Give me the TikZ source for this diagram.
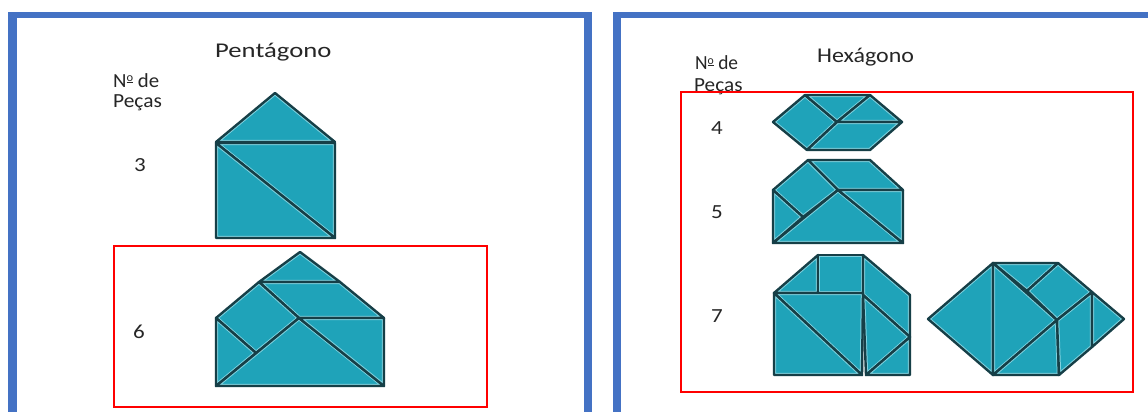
\documentclass[tikz,border=0pt]{standalone}
\usepackage{fontspec}
\setmainfont{Carlito}
\definecolor{framblue}{HTML}{4472C4}
\definecolor{boxred}{HTML}{FF0000}
\definecolor{tanfill}{HTML}{1FA3B9}
\definecolor{tanedge}{HTML}{163F47}
\definecolor{tanlight}{HTML}{7FD2DF}
\definecolor{txt}{HTML}{262626}
\tikzset{
  redbox/.style={draw=boxred, line width=2pt},
  lbl/.style={anchor=base west, inner sep=0pt, text=txt, font=\fontsize{20}{24}\selectfont},
  ttl/.style={anchor=base west, inner sep=0pt, text=txt, font=\fontsize{21}{25}\selectfont},
}
% one tangram piece: teal fill, light inner rim, dark outline
\newcommand{\tanpiece}[1]{%
  \begin{scope}
    \clip #1 -- cycle;
    \fill[tanfill] #1 -- cycle;
    \draw[tanlight, line width=4.4pt, line join=round] #1 -- cycle;
  \end{scope}
  \draw[tanedge, line width=2.4pt, line join=round] #1 -- cycle;
}
\newcommand{\sx}[2]{\scalebox{#1}[1]{#2}}
\newcommand{\nro}{N\raisebox{0.62ex}{\fontsize{12}{12}\selectfont\underline{o}}}
\begin{document}
\begin{tikzpicture}[x=1pt,y=-1pt]
\useasboundingbox (0,0) rectangle (1148,412);
\fill[white] (0,0) rectangle (1148,412);

% panel frames
\fill[framblue] (8,12) rectangle (592,18);
\fill[framblue] (8,12) rectangle (17,412);
\fill[framblue] (584,12) rectangle (592,412);
\fill[framblue] (613,12) rectangle (1148,18);
\fill[framblue] (613,12) rectangle (621,412);

% left panel: pentagon
\node[ttl] (ptitle) at (215,57) {\sx{1.27}{Pentágono}};
\node[lbl] (pn1) at (113,87) {\sx{1.04}{\nro{} de}};
\node[lbl] (pn2) at (113,107) {\sx{1.07}{Peças}};
\node[lbl] (p3) at (134,171) {\sx{1.15}{3}};
\node[lbl] (p6) at (133,338) {\sx{1.15}{6}};

% three pieces
\tanpiece{(216,142) -- (275,93) -- (335,142)}
\tanpiece{(216,143) -- (335,143) -- (335,238)}
\tanpiece{(216,143) -- (335,238) -- (216,238)}

\draw[redbox] (114,246) rectangle (487,407);

% six pieces
\tanpiece{(300,252) -- (340,282) -- (259,282)}
\tanpiece{(259,282) -- (340,282) -- (384,318) -- (299,318)}
\tanpiece{(259,282) -- (299,318) -- (256,353) -- (216,318)}
\tanpiece{(216,318) -- (256,353) -- (216,386)}
\tanpiece{(216,386) -- (299,318) -- (384,386)}
\tanpiece{(299,318) -- (384,318) -- (384,386)}

% right panel: hexagon
\node[ttl] (htitle) at (817,63) {\sx{1.14}{Hexágono}};
\node[lbl] (hn1) at (695,70) {\sx{0.97}{\nro{} de}};
\node[lbl] (hn2) at (694,92) {\sx{1.06}{Peças}};
\node[lbl] (h4) at (711,134) {\sx{1.15}{4}};
\node[lbl] (h5) at (711,218) {\sx{1.15}{5}};
\node[lbl] (h7) at (711,322) {\sx{1.15}{7}};

\draw[redbox] (681,92) rectangle (1133,392);

% four pieces
\tanpiece{(773,122) -- (805,95) -- (837,122) -- (807,150)}
\tanpiece{(805,95) -- (870,95) -- (837,122)}
\tanpiece{(870,95) -- (902,122) -- (837,122)}
\tanpiece{(837,122) -- (902,122) -- (870,150) -- (807,150)}

% five pieces
\tanpiece{(808,160) -- (870,160) -- (903,190) -- (838,190)}
\tanpiece{(773,190) -- (808,160) -- (838,190) -- (803,217)}
\tanpiece{(773,190) -- (803,217) -- (773,243)}
\tanpiece{(773,243) -- (838,190) -- (903,243)}
\tanpiece{(838,190) -- (903,190) -- (903,243)}

% seven pieces, first arrangement
\tanpiece{(774,293) -- (818,255) -- (818,293)}
\tanpiece{(818,255) -- (863,255) -- (863,293) -- (818,293)}
\tanpiece{(863,255) -- (910,295) -- (910,337) -- (863,295)}
\tanpiece{(863,295) -- (910,337) -- (866,375)}
\tanpiece{(866,375) -- (910,337) -- (910,375)}
\tanpiece{(774,293) -- (863,293) -- (862,375)}
\tanpiece{(774,293) -- (862,375) -- (774,375)}

% seven pieces, second arrangement
\tanpiece{(928,319) -- (993,263) -- (993,375)}
\tanpiece{(993,263) -- (1057,320) -- (993,375)}
\tanpiece{(993,263) -- (1058,263) -- (1027,291)}
\tanpiece{(1027,291) -- (1058,263) -- (1092,292) -- (1057,320)}
\tanpiece{(1057,320) -- (993,375) -- (1059,375)}
\tanpiece{(1057,320) -- (1092,292) -- (1092,347) -- (1059,375)}
\tanpiece{(1092,292) -- (1124,319) -- (1092,347)}
\end{tikzpicture}
\end{document}
